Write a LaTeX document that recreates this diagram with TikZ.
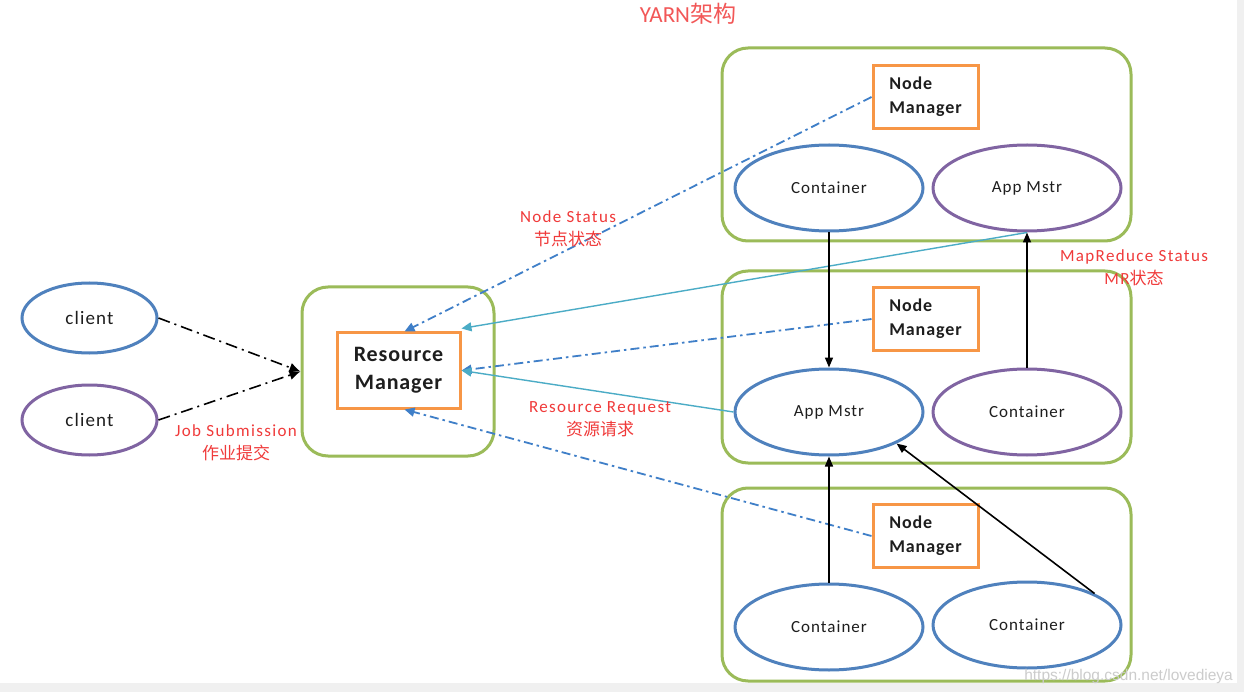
\documentclass[tikz,border=0pt]{standalone}
\usepackage{fontspec}
\setmainfont{Carlito}
\newfontfamily\cjk{Noto Sans CJK SC}
\newfontfamily\wmfont{Liberation Sans}
\newfontfamily\lsL[LetterSpace=8]{Carlito}
\newfontfamily\lsE[LetterSpace=6]{Carlito}
\newfontfamily\lsN[LetterSpace=5]{Carlito}
\newfontfamily\lsR[LetterSpace=4]{Carlito}
\usetikzlibrary{arrows.meta,shapes.geometric,calc}
\definecolor{cblue}{HTML}{4F81BD}
\definecolor{cpurple}{HTML}{8064A2}
\definecolor{cgreen}{HTML}{9BBB59}
\definecolor{corange}{HTML}{F79646}
\definecolor{cdash}{HTML}{3F7FC8}
\definecolor{cteal}{HTML}{4BACC6}
\definecolor{cred}{HTML}{F03A3A}
\definecolor{ctext}{HTML}{1E1E1E}
\tikzset{
  hostbox/.style={draw=cgreen,line width=3pt,rounded corners=26pt,inner sep=0pt},
  mgrbox/.style={draw=corange,line width=3pt,fill=white,inner sep=0pt,text=ctext,align=left},
  ell/.style={ellipse,line width=3pt,inner sep=0pt,minimum width=188pt,minimum height=86pt,font=\lsE\fontsize{17}{17}\selectfont,text=ctext,fill=white},
  cli/.style={ellipse,line width=3pt,inner sep=0pt,minimum width=135pt,minimum height=70pt,font=\lsE\fontsize{19}{19}\selectfont,text=ctext},
  lbl/.style={text=cred,align=center,font=\lsL\fontsize{17}{23}\selectfont,inner sep=0pt},
  dd/.style={draw=cdash,line width=1.8pt,dash pattern=on 9pt off 4pt on 2.5pt off 4pt,-{Triangle[length=10pt,width=9pt]}},
  tl/.style={draw=cteal,line width=1.4pt,-{Triangle[length=10pt,width=9pt]}},
  bl/.style={draw=black,line width=1.6pt,-{Triangle[length=10pt,width=8pt]}},
  jd/.style={draw=black,line width=1.6pt,dash pattern=on 12pt off 5pt on 2pt off 5pt,-{Latex[length=11pt,width=10pt]}}
}
\begin{document}
\begin{tikzpicture}[x=1pt,y=-1pt]
\useasboundingbox (0,0) rectangle (1244,692);
\fill[black!6] (0,0) rectangle (1244,692);
\fill[white] (0,0) rectangle (1237,683);
\clip (0,0) rectangle (1244,692);

% title
\node[text=cred!85,font=\fontsize{23}{23}\selectfont,inner sep=0pt] (title) at (688,14) {YARN{\cjk 架构}};

% host boxes
\node[hostbox,minimum width=192pt,minimum height=169pt] (rmouter) at (398,371.5) {};
\node[hostbox,minimum width=409pt,minimum height=193pt] (h1) at (926.5,144.5) {};
\node[hostbox,minimum width=409pt,minimum height=192pt] (h2) at (926.5,367) {};
\node[hostbox,minimum width=409pt,minimum height=193pt] (h3) at (926.5,584.5) {};

% resource manager
\node[mgrbox,minimum width=123pt,minimum height=75pt,align=center,font=\lsR\fontsize{22}{28}\selectfont\bfseries] (rm) at (398.5,370.5) {Resource\\Manager};

% node managers
\node[mgrbox,minimum width=105pt,minimum height=63pt,font=\lsN\fontsize{18}{24}\selectfont\bfseries] (nm1) at (925.5,97) {Node\phantom{ger}\\Manager};
\node[mgrbox,minimum width=105pt,minimum height=63pt,font=\lsN\fontsize{18}{24}\selectfont\bfseries] (nm2) at (925.5,319) {Node\phantom{ger}\\Manager};
\node[mgrbox,minimum width=105pt,minimum height=63pt,font=\lsN\fontsize{18}{24}\selectfont\bfseries] (nm3) at (925.5,536) {Node\phantom{ger}\\Manager};

% ellipses
\node[ell,draw=cblue] (c1) at (829,188) {Container};
\node[ell,draw=cpurple] (am1) at (1027,188) {App Mstr};
\node[ell,draw=cblue] (am2) at (829,412) {App Mstr};
\node[ell,draw=cpurple] (c2) at (1027,412) {Container};
\node[ell,draw=cblue] (c3) at (829,627) {Container};
\node[ell,draw=cblue] (c4) at (1027,625) {Container};

% clients
\node[cli,draw=cblue] (cl1) at (89.5,318) {client};
\node[cli,draw=cpurple] (cl2) at (89.5,420) {client};

% job submission
\draw[jd] (cl1.east) -- (rmouter.west);
\draw[jd] (cl2.east) -- (rmouter.west);
\node[lbl] (ljob) at (236,443) {Job Submission\\{\cjk 作业提交}};

% status / request connectors
\draw[dd] (nm1.west) -- ([xshift=6pt]rm.north);
\draw[tl] (am1.south) -- ([yshift=3pt]rm.north east);
\draw[dd] (nm2.west) -- (rm.east);
\draw[tl] (am2.west) -- (rm.east);
\draw[dd] (nm3.west) -- ([xshift=6pt]rm.south);

\node[lbl] (lns) at (568,229) {Node Status\\{\cjk 节点状态}};
\node[lbl] (lmr) at (1134,268) {MapReduce Status\\MR{\cjk 状态}};
\node[lbl] (lrr) at (600,419) {Resource Request\\{\cjk 资源请求}};

% container arrows
\draw[bl] (c1.south) -- (am2.north);
\draw[bl] (c2.north) -- (am1.south);
\draw[bl] (c3.north) -- (am2.south);
\draw[bl] (c4.north east) -- (am2.south east);

% watermark
\node[anchor=east,text=black!20,font=\wmfont\fontsize{15.5}{15.5}\selectfont,inner sep=0pt] (wm) at (1233,676) {https://blog.csdn.net/lovedieya};
\end{tikzpicture}
\end{document}
